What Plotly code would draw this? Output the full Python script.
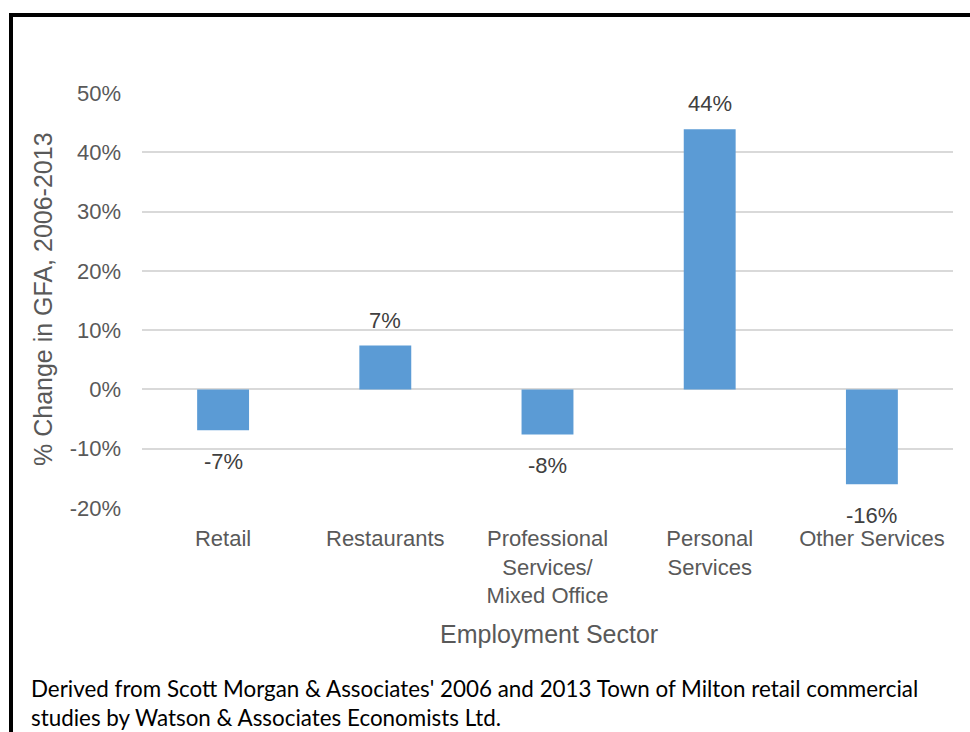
import plotly.graph_objects as go

# Employment sector GFA change, 2006-2013
sectors = ["Retail", "Restaurants", "Professional<br>Services/<br>Mixed Office",
           "Personal<br>Services", "Other Services"]
pct_change = [-6.9, 7.4, -7.6, 43.9, -16.0]
y_ticks = [-20, -10, 0, 10, 20, 30, 40, 50]
y_tick_text = [f"{v}%" for v in y_ticks]

BAR_COLOR = "#5b9bd5"
TICK_COLOR = "#595959"
LABEL_COLOR = "#404040"
FONT = "Liberation Sans, Arial, sans-serif"

W, H = 970, 732
L, R, T, B = 142, 17, 93, 224
PW, PH = W - L - R, H - T - B


def px_x(x):
    return (x - L) / PW


def px_y(y):
    return (H - B - y) / PH


fig = go.Figure()
fig.add_trace(go.Bar(
    x=sectors, y=pct_change,
    marker=dict(color=BAR_COLOR, line=dict(width=0)),
    width=0.32, hoverinfo="skip",
))

# value labels, offset from bar ends
for s, v in zip(sectors, pct_change):
    fig.add_annotation(
        x=s, y=v, text=f"{v:.0f}%", showarrow=False,
        yanchor="bottom" if v >= 0 else "top",
        yshift=11 if v >= 0 else -17,
        font=dict(family=FONT, size=22, color=LABEL_COLOR),
    )

# axis titles
fig.add_annotation(
    xref="paper", yref="paper", x=px_x(43), y=px_y(299),
    xanchor="center", yanchor="middle",
    text="% Change in GFA, 2006-2013", textangle=-90, showarrow=False,
    font=dict(family=FONT, size=25, color=TICK_COLOR),
)
fig.add_annotation(
    xref="paper", yref="paper", x=px_x(549), y=px_y(634),
    xanchor="center", yanchor="middle",
    text="Employment Sector", showarrow=False,
    font=dict(family=FONT, size=25, color=TICK_COLOR),
)

# source note
fig.add_annotation(
    xref="paper", yref="paper", x=px_x(29), y=px_y(703), xanchor="left", yanchor="middle",
    align="left", showarrow=False,
    text=("Derived from Scott Morgan &amp; Associates' 2006 and 2013 Town of Milton retail commercial<br>"
          "studies by Watson &amp; Associates Economists Ltd."),
    font=dict(family="Lato, Open Sans, sans-serif", size=22.4, color="#000000"),
)

# frame lines (top and left)
fig.add_shape(type="line", xref="paper", yref="paper",
              x0=px_x(9), x1=px_x(975), y0=px_y(15), y1=px_y(15),
              line=dict(color="#000000", width=4))
fig.add_shape(type="line", xref="paper", yref="paper",
              x0=px_x(11), x1=px_x(11), y0=px_y(13), y1=px_y(740),
              line=dict(color="#000000", width=4))

fig.update_layout(
    width=W, height=H,
    margin=dict(l=L, r=R, t=T, b=B, autoexpand=False),
    paper_bgcolor="#ffffff", plot_bgcolor="#ffffff",
    showlegend=False, bargap=0.68,
    font=dict(family=FONT, color=TICK_COLOR),
)
fig.update_xaxes(
    showgrid=False, showline=False, zeroline=False, ticks="",
    tickfont=dict(family=FONT, size=22, color=TICK_COLOR),
    ticklabelstandoff=15, automargin=False,
)
fig.update_yaxes(
    range=[-20, 50], tickvals=y_ticks, ticktext=y_tick_text,
    showgrid=True, gridcolor="#d9d9d9", gridwidth=2,
    zeroline=True, zerolinecolor="#d9d9d9", zerolinewidth=2,
    showline=False, ticks="",
    tickfont=dict(family=FONT, size=22, color=TICK_COLOR),
    ticklabelstandoff=20, automargin=False,
)

fig.write_html("out.html")
